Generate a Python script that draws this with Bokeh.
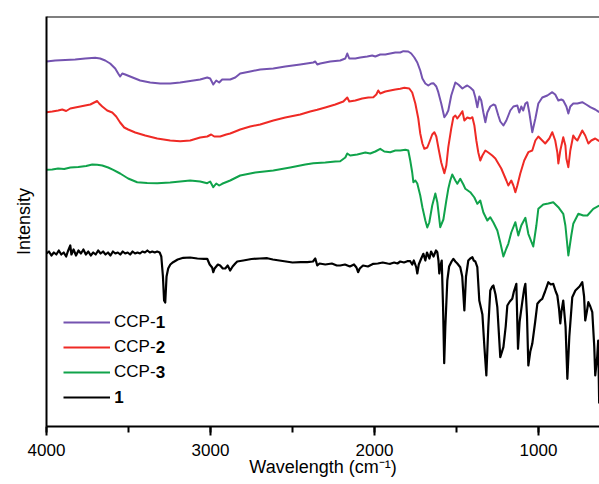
from bokeh.plotting import figure
from bokeh.models import (Range1d, Span, Legend, LegendItem, Label,
                          SingleIntervalTicker, FixedTicker)
from bokeh.embed import file_html
from bokeh.resources import INLINE

# ---------------- data (arbitrary intensity units) -------------
ccp1_w = [4000, 3947, 3886, 3825, 3764, 3703, 3673, 3642, 3612, 3581, 3563, 3551, 3538, 3520,
          3490, 3429, 3368, 3307, 3246, 3185, 3124, 3063, 3020, 3002, 2983, 2965, 2947, 2929,
          2880, 2849, 2819, 2758, 2697, 2617, 2544, 2453, 2373, 2361, 2349, 2331, 2270, 2209,
          2178, 2166, 2154, 2117, 2087, 2044, 2014, 1995, 1965, 1934, 1904, 1873, 1843, 1824,
          1794, 1776, 1757, 1739, 1721, 1708, 1690, 1672, 1654, 1641, 1623, 1611, 1593, 1574,
          1562, 1550, 1532, 1507, 1489, 1464, 1446, 1434, 1416, 1397, 1385, 1373, 1361, 1349,
          1336, 1324, 1312, 1294, 1275, 1263, 1245, 1233, 1214, 1196, 1172, 1153, 1129, 1117,
          1105, 1093, 1080, 1068, 1056, 1038, 1019, 1001, 977, 946, 916, 898, 879, 861, 849,
          830, 818, 806, 788, 763, 733, 709, 684, 654, 630]
ccp1_i = [365, 366, 366.5, 367, 368, 368.7, 368, 366, 363, 358, 353, 350, 353, 352,
          350, 346, 344, 343, 343, 344, 345.5, 347, 349, 348, 342, 346, 344, 347,
          347, 349, 353, 355, 357, 358, 360, 362, 364, 365, 362, 363, 365, 366,
          368, 373, 368, 368, 369, 370, 371, 370, 372, 372, 373, 374, 374, 375.3,
          375, 373, 369, 364, 356, 348, 343, 341, 343, 343.3, 340, 334.3, 323, 309.3,
          312, 316, 331, 344, 342, 338, 340, 341, 339, 336, 329, 319.3, 330, 326,
          314, 304.3, 314, 320, 322, 321, 311, 305, 301, 306, 316, 320, 321, 314,
          320, 316, 323, 324.3, 314, 294.3, 308, 323, 329, 331, 334.3, 332, 326, 327, 326,
          320, 313, 320, 323, 323, 324.3, 322, 319.3, 317, 314.3]

ccp2_w = [4000, 3965, 3929, 3904, 3880, 3855, 3825, 3794, 3764, 3733, 3709, 3691, 3679, 3660,
          3630, 3599, 3575, 3551, 3526, 3502, 3459, 3398, 3325, 3246, 3185, 3124, 3063, 3020,
          2996, 2977, 2941, 2904, 2880, 2849, 2819, 2758, 2697, 2617, 2544, 2453, 2392, 2349,
          2300, 2239, 2190, 2166, 2154, 2117, 2075, 2038, 2007, 1989, 1977, 1965, 1934, 1904,
          1873, 1843, 1818, 1788, 1770, 1751, 1733, 1721, 1708, 1696, 1678, 1666, 1648, 1635,
          1623, 1611, 1593, 1574, 1562, 1550, 1532, 1519, 1507, 1495, 1477, 1464, 1452, 1434,
          1416, 1403, 1391, 1379, 1367, 1355, 1342, 1324, 1306, 1282, 1263, 1245, 1227, 1214,
          1196, 1184, 1166, 1153, 1141, 1129, 1111, 1087, 1062, 1038, 1019, 1001, 983, 959,
          934, 916, 898, 885, 879, 867, 849, 836, 830, 818, 806, 788, 776, 763, 745, 733,
          715, 696, 678, 654, 630]
ccp2_i = [314.3, 315, 316, 317, 315.5, 318, 319, 320, 321, 322, 324, 325.5, 323, 320,
          316, 314, 310, 304, 299, 297, 294, 291, 288, 286, 285.3, 286, 289, 290,
          292, 290, 290, 292, 293, 295, 297, 300, 302, 306, 309, 312, 315, 316.7,
          319, 322, 325, 329, 325, 326, 328, 329, 329.3, 332, 336, 333, 335, 336,
          337, 337.7, 338.7, 338, 334, 323, 308, 293, 283, 277.7, 279, 284, 292, 294.3,
          290, 279.3, 264, 253.3, 261, 279.3, 298, 309.3, 311, 308, 312, 315.3, 306, 309,
          308, 309.3, 301, 286, 274, 266, 271, 276, 274, 271, 268, 263, 258, 253,
          246, 241, 246, 241, 234.3, 241, 253, 266, 274.3, 276, 286, 290, 287, 283,
          288, 294.3, 286, 274, 263, 276, 289.3, 281, 268, 259.3, 276, 291, 288, 286, 292, 296,
          291, 283, 286, 288, 285.3]

ccp3_w = [4000, 3965, 3929, 3892, 3855, 3806, 3758, 3721, 3691, 3660, 3624, 3593, 3551, 3502,
          3447, 3386, 3325, 3246, 3185, 3124, 3063, 3020, 3002, 2983, 2965, 2947, 2929, 2880,
          2819, 2727, 2617, 2514, 2422, 2373, 2300, 2239, 2209, 2178, 2166, 2148, 2105, 2056,
          2026, 1995, 1965, 1940, 1904, 1873, 1843, 1812, 1794, 1782, 1770, 1763, 1751, 1739,
          1721, 1708, 1690, 1678, 1666, 1648, 1629, 1617, 1599, 1580, 1562, 1550, 1538, 1526,
          1507, 1495, 1477, 1458, 1446, 1416, 1391, 1373, 1355, 1336, 1312, 1294, 1275, 1251,
          1233, 1214, 1196, 1184, 1166, 1141, 1123, 1105, 1080, 1062, 1032, 1013, 1001, 971,
          940, 910, 879, 849, 836, 818, 800, 788, 757, 727, 702, 666, 630]
ccp3_i = [256.7, 257, 258, 257.5, 259, 259.5, 260.5, 262, 261.7, 261, 259, 256.7, 253, 248,
          244.3, 243.5, 243.3, 244, 245, 246, 245, 243.3, 245, 239.3, 243, 241, 242.7, 246,
          251, 254, 256, 259, 262, 263.3, 264, 265, 265.3, 269, 273, 271, 272, 274,
          273, 275, 277.7, 275, 274.3, 276, 276, 276.7, 276, 266, 254, 244.3, 246, 243,
          231, 219.3, 206, 199, 204, 221, 233, 224.3, 199.3, 207, 226, 237.7, 246, 252,
          246, 242.7, 247.7, 242, 237.7, 234.3, 229, 222.7, 226, 214, 206, 209.3, 204, 196,
          184, 170, 178, 182.7, 194, 204.3, 191, 201, 208.7, 192.7, 180, 201, 217.7, 222,
          223, 224.3, 219.3, 212.7, 201, 171, 191, 202.7, 212.7, 211, 211, 217.7, 221]

cmp1_w = [4000, 3985, 3970, 3955, 3940, 3925, 3910, 3895, 3880, 3870, 3855, 3848, 3835, 3820,
          3805, 3790, 3775, 3760, 3745, 3730, 3715, 3700, 3685, 3670, 3655, 3640, 3625, 3610,
          3595, 3580, 3565, 3550, 3535, 3520, 3505, 3490, 3475, 3460, 3445, 3430, 3415, 3400,
          3385, 3370, 3355, 3340, 3325, 3310, 3300, 3290, 3283, 3276, 3268, 3258, 3245, 3228,
          3200, 3166, 3124, 3080, 3040, 3020, 3005, 2990, 2983, 2975, 2955, 2941, 2925, 2910,
          2895, 2880, 2865, 2849, 2837, 2800, 2750, 2700, 2654, 2620, 2580, 2540, 2500, 2450,
          2410, 2375, 2361, 2349, 2335, 2300, 2260, 2230, 2209, 2180, 2150, 2125, 2110, 2100,
          2090, 2070, 2040, 2007, 1980, 1950, 1920, 1904, 1880, 1860, 1843, 1820, 1800, 1782,
          1770, 1760, 1745, 1739, 1730, 1715, 1702, 1690, 1680, 1665, 1655, 1640, 1625, 1617,
          1610, 1605, 1599, 1590, 1582, 1575, 1568, 1556, 1545, 1530, 1519, 1507, 1495, 1477,
          1465, 1452, 1442, 1428, 1416, 1403, 1395, 1385, 1373, 1361, 1350, 1342, 1330, 1318,
          1306, 1294, 1282, 1275, 1262, 1251, 1233, 1214, 1200, 1190, 1175, 1160, 1150, 1135,
          1125, 1115, 1099, 1087, 1080, 1070, 1062, 1050, 1038, 1020, 1007, 990, 977, 960,
          940, 925, 910, 895, 885, 875, 867, 860, 849, 835, 824, 812, 794, 775, 750, 733,
          722, 715, 705, 696, 684, 672, 660, 654, 642, 636, 630]
cmp1_i = [173, 175, 171, 174, 172, 176, 172, 174, 170, 175, 181, 172, 177, 171,
          176, 173, 177, 172, 175, 171, 174, 172, 176, 173, 175, 172, 174, 171,
          175, 173, 174, 172, 175, 173, 174, 172, 175, 173, 174, 173, 175, 174,
          176, 174, 175, 174, 175, 174, 170, 150, 126, 124, 150, 158, 162, 164.3,
          167, 168.7, 169, 168, 167.7, 167.7, 162, 159, 154.3, 158, 162, 161, 158, 158,
          161, 156, 160, 163, 165, 166, 167.5, 168, 168.3, 167, 166, 165, 164, 164.3,
          164.3, 165, 168, 161, 163, 162, 163, 161, 161, 162, 160, 162, 159, 154.3,
          158, 161, 160, 162.7, 163, 164, 163, 162.7, 164, 163, 165, 164, 165.3, 165.3,
          162, 166, 159, 153, 162, 168, 172.7, 166, 174, 168, 175, 170, 176, 174.3,
          166, 153, 160, 166, 120, 63.3, 100, 146, 160, 165, 167.7, 165, 163, 159.3,
          150, 116, 150, 166, 168, 169.3, 166, 165, 159.3, 126, 118, 112, 80, 51,
          100, 136, 140, 141, 132, 119.3, 69.3, 79.3, 100, 121, 125, 127.7, 135, 142.7,
          77.7, 105, 124.3, 138, 142.7, 110, 61, 75, 82.7, 105, 122.7, 126, 127.7, 135,
          144.3, 142, 142.7, 135, 131, 118, 103, 115, 126, 100, 47.7, 90, 129.3, 136, 140, 144.3,
          130, 106, 115, 124.3, 120, 114.3, 80, 51, 70, 86, 23]

series_names = ["CCP-", "CCP-", "CCP-", " "]
series_bold = ["1", "2", "3", "1"]
series_colors = ["#7453b0", "#ef2a25", "#10a34b", "#000000"]

# ---------------- figure ----------------
FONT = "Liberation Sans"
p = figure(width=599, height=484, output_backend="svg", toolbar_location=None,
           x_range=Range1d(4000, 628), y_range=Range1d(0, 410),
           min_border_left=46, min_border_right=0, min_border_top=16, min_border_bottom=58)
p.outline_line_color = None
p.grid.visible = False
p.background_fill_color = "white"
p.border_fill_color = "white"

data = [(ccp1_w, ccp1_i), (ccp2_w, ccp2_i), (ccp3_w, ccp3_i), (cmp1_w, cmp1_i)]
renderers = []
for (w, it), c in zip(data, series_colors):
    lw = 2.2 if c == "#000000" else 2
    r = p.line(w, it, line_color=c, line_width=lw, line_join="round")
    renderers.append(r)

# x axis
xa = p.xaxis[0]
xa.ticker = SingleIntervalTicker(interval=1000, num_minor_ticks=2)
xa.axis_label = "Wavelength (cm\u207b\u00b9)"
xa.axis_label_text_font = FONT
xa.axis_label_text_font_size = "18px"
xa.axis_label_text_font_style = "normal"
xa.axis_label_text_color = "black"
xa.axis_label_standoff = -2
xa.major_label_text_font = FONT
xa.major_label_text_font_size = "17px"
xa.major_label_text_color = "black"
xa.major_label_standoff = 8
xa.axis_line_width = 2
xa.major_tick_line_width = 2
xa.minor_tick_line_width = 2
xa.major_tick_out = 9
xa.major_tick_in = 0
xa.minor_tick_out = 6
xa.minor_tick_in = 0

# y axis
ya = p.yaxis[0]
ya.ticker = FixedTicker(ticks=[])
ya.axis_label = "Intensity"
ya.axis_label_text_font = FONT
ya.axis_label_text_font_size = "18px"
ya.axis_label_text_font_style = "normal"
ya.axis_label_text_color = "black"
ya.axis_label_standoff = 13
ya.major_tick_out = 0
ya.major_tick_in = 0
ya.minor_tick_out = 0
ya.minor_tick_in = 0
ya.major_label_standoff = 0
ya.axis_line_width = 2

# top frame line
p.add_layout(Span(location=410, dimension="width", line_color="black", line_width=2))

# legend
items = [LegendItem(label=n, renderers=[r]) for n, r in zip(series_names, renderers)]
legend = Legend(items=items, location=(17, 19), padding=0, margin=0, spacing=5,
                glyph_width=47, glyph_height=20, label_height=20, label_standoff=4,
                label_text_font=FONT, label_text_font_size="17px", label_text_color="black",
                border_line_color=None, background_fill_alpha=0)
p.add_layout(legend)

bold_x = [3334, 3334, 3334, 3587]
bold_y = [104.3, 79.3, 54.3, 29.3]
for t, bx, by in zip(series_bold, bold_x, bold_y):
    p.add_layout(Label(x=bx, y=by, text=t, text_font=FONT, text_font_size="17px",
                       text_font_style="bold", text_color="black",
                       text_baseline="middle", text_align="left"))

open("out.html", "w").write(file_html(p, INLINE))
